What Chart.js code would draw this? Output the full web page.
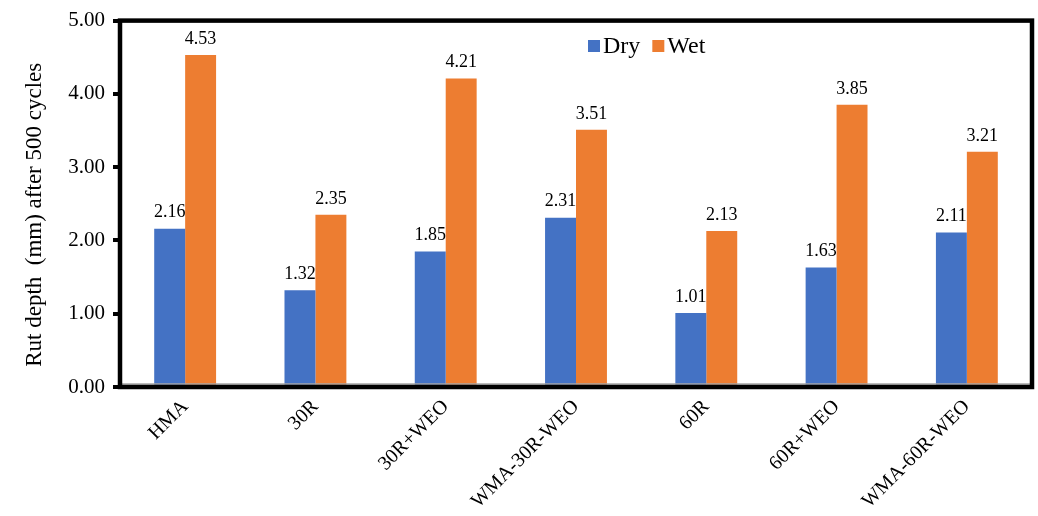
<!DOCTYPE html>
<html>
<head>
<meta charset="utf-8">
<script src="https://cdn.jsdelivr.net/npm/chart.js@4/dist/chart.umd.min.js"></script>
<style>
  html, body { margin: 0; padding: 0; background: #fff; }
  #wrap { width: 1038px; height: 516px; }
</style>
</head>
<body>
<div id="wrap"><canvas id="c" width="1038" height="516"></canvas></div>
<script>
// Mixtures and measured rut depths (mm) after 500 cycles
const mixtures = ['HMA', '30R', '30R+WEO', 'WMA-30R-WEO', '60R', '60R+WEO', 'WMA-60R-WEO'];
const dryRut = [2.16, 1.32, 1.85, 2.31, 1.01, 1.63, 2.11];
const wetRut = [4.53, 2.35, 4.21, 3.51, 2.13, 3.85, 3.21];
const yTicks = [0, 1, 2, 3, 4, 5];
const yTitle = 'Rut depth  (mm) after 500 cycles';

const SERIF = '"Liberation Serif", "Times New Roman", serif';

// Value labels above each bar
const valueLabels = {
  id: 'valueLabels',
  afterDatasetsDraw(chart) {
    const ctx = chart.ctx;
    ctx.save();
    ctx.font = '18px ' + SERIF;
    ctx.fillStyle = '#000';
    ctx.textAlign = 'center';
    ctx.textBaseline = 'bottom';
    chart.data.datasets.forEach((ds, i) => {
      chart.getDatasetMeta(i).data.forEach((bar, j) => {
        ctx.fillText(ds.data[j].toFixed(2), bar.x, bar.y - 7);
      });
    });
    ctx.restore();
  }
};

// Legend inside the plot area, the heavy frame and the y-axis title
const frameAndLegend = {
  id: 'frameAndLegend',
  afterDraw(chart) {
    const ctx = chart.ctx;
    const a = chart.chartArea;
    ctx.save();
    // thin grey baseline
    ctx.strokeStyle = '#a6a6a6';
    ctx.lineWidth = 1.5;
    ctx.beginPath();
    ctx.moveTo(a.left, a.bottom - 3);
    ctx.lineTo(a.right, a.bottom - 3);
    ctx.stroke();
    // frame
    ctx.strokeStyle = '#000';
    ctx.lineWidth = 4.5;
    ctx.strokeRect(a.left, a.top, a.right - a.left, a.bottom - a.top);

    // y-axis title
    ctx.save();
    ctx.translate(35, (a.top + a.bottom) / 2 + 11);
    ctx.rotate(-Math.PI / 2);
    ctx.font = '23px ' + SERIF;
    ctx.fillStyle = '#000';
    ctx.textAlign = 'center';
    ctx.textBaseline = 'middle';
    ctx.fillText(yTitle, 0, 0);
    ctx.restore();

    // legend
    ctx.font = '24px ' + SERIF;
    ctx.textBaseline = 'middle';
    ctx.textAlign = 'left';
    let x = 588;
    const y = 46;
    chart.data.datasets.forEach(ds => {
      ctx.fillStyle = ds.backgroundColor;
      ctx.fillRect(x, y - 6, 12, 12);
      ctx.fillStyle = '#000';
      ctx.fillText(ds.label, x + 15, y + 1);
      x += 15 + ctx.measureText(ds.label).width + 12;
    });
    ctx.restore();
  }
};

new Chart(document.getElementById('c'), {
  type: 'bar',
  data: {
    labels: mixtures,
    datasets: [
      { label: 'Dry', data: dryRut, backgroundColor: '#4472C4' },
      { label: 'Wet', data: wetRut, backgroundColor: '#ED7D31' }
    ]
  },
  options: {
    responsive: false,
    animation: false,
    devicePixelRatio: 1,
    layout: { padding: { left: 0, right: 6, top: 19, bottom: 0 } },
    plugins: {
      legend: { display: false },
      tooltip: { enabled: false }
    },
    datasets: {
      bar: { categoryPercentage: 0.475, barPercentage: 1.0 }
    },
    scales: {
      x: {
        grid: { display: false, drawTicks: false },
        border: { display: false },
        ticks: {
          maxRotation: 45, minRotation: 45, autoSkip: false,
          padding: 8,
          color: '#000',
          font: { family: SERIF, size: 20 }
        },
        afterFit(scale) { scale.height = 129; }
      },
      y: {
        min: 0, max: 5,
        afterBuildTicks(scale) { scale.ticks = yTicks.map(v => ({ value: v })); },
        grid: {
          drawOnChartArea: false,
          drawTicks: true,
          tickLength: 7,
          color: '#000',
          lineWidth: 4
        },
        border: { display: false },
        ticks: {
          padding: 8,
          color: '#000',
          font: { family: SERIF, size: 21 },
          callback: v => Number(v).toFixed(2)
        },
        title: { display: false },
        afterFit(scale) { scale.width = 120; }
      }
    }
  },
  plugins: [valueLabels, frameAndLegend]
});
</script>
</body>
</html>
